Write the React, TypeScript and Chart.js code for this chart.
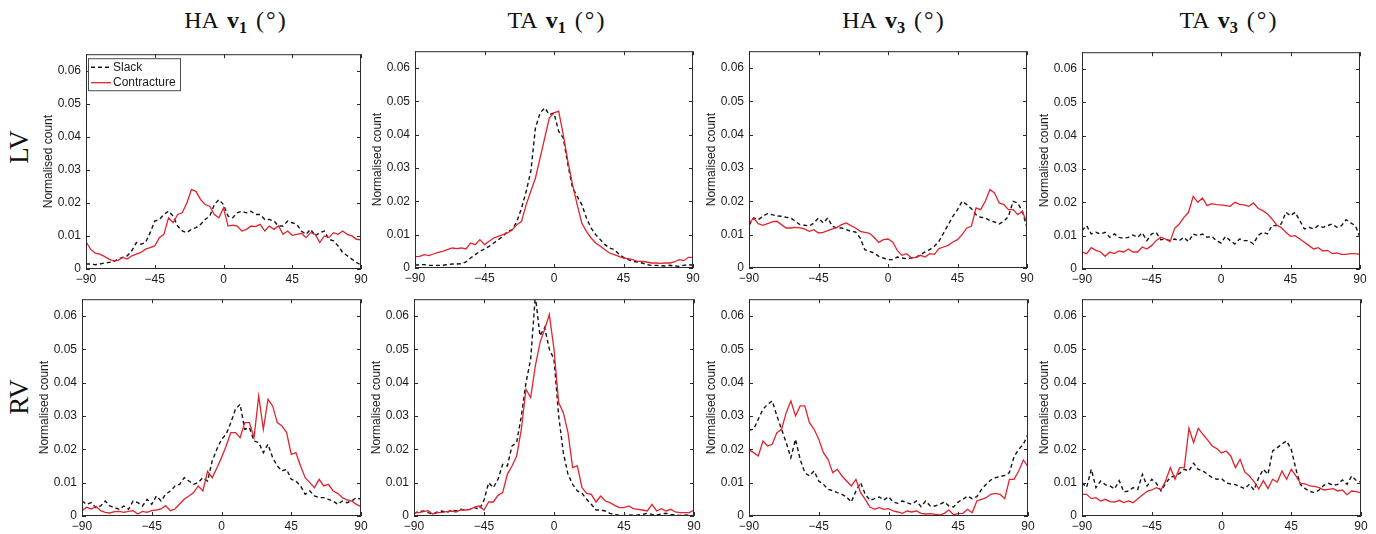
import React, { useEffect, useRef } from 'react';
import { Chart, registerables } from 'chart.js';
Chart.register(...registerables);

// ---------- data ----------
const angles = [
  -90, -87, -84, -81, -78, -75, -72, -69, -66, -63,
  -60, -57, -54, -51, -48, -45, -42, -39, -36, -33,
  -30, -27, -24, -21, -18, -15, -12, -9, -6, -3,
  0, 3, 6, 9, 12, 15, 18, 21, 24, 27,
  30, 33, 36, 39, 42, 45, 48, 51, 54, 57,
  60, 63, 66, 69, 72, 75, 78, 81, 84, 87,
  90,
];

const xTicks = [-90, -45, 0, 45, 90];
const yTicks = [0, 0.01, 0.02, 0.03, 0.04, 0.05, 0.06];
const seriesNames = ['Slack', 'Contracture'];
const colPrefix = ['HA', 'TA', 'HA', 'TA'];
const colSub = ['1', '1', '3', '3'];
const rowLabels = ['LV', 'RV'];
const yAxisTitle = 'Normalised count';

// LV, HA v1
const lvHaV1Slack = [
  0.0015, 0.0015, 0.0013, 0.0015, 0.0018, 0.002, 0.0022, 0.003, 0.0035, 0.004,
  0.0055, 0.008, 0.0075, 0.008, 0.011, 0.0145, 0.015, 0.0165, 0.0175, 0.016,
  0.013, 0.0115, 0.011, 0.012, 0.0125, 0.0135, 0.015, 0.016, 0.0195, 0.021,
  0.0195, 0.016, 0.0155, 0.017, 0.0175, 0.017, 0.0175, 0.0165, 0.0165, 0.015,
  0.015, 0.0145, 0.013, 0.013, 0.0145, 0.014, 0.0135, 0.0115, 0.0105, 0.012,
  0.01, 0.011, 0.0115, 0.009, 0.0085, 0.007, 0.005, 0.004, 0.003, 0.002,
  0.0012,
];
const lvHaV1Contracture = [
  0.0082, 0.006, 0.0048, 0.0045, 0.0038, 0.003, 0.0025, 0.0026, 0.0035, 0.003,
  0.004, 0.0045, 0.005, 0.006, 0.0065, 0.007, 0.0095, 0.0105, 0.0155, 0.014,
  0.0165, 0.017, 0.02, 0.024, 0.0235, 0.021, 0.0195, 0.019, 0.0165, 0.0155,
  0.0185, 0.013, 0.0133, 0.013, 0.0115, 0.012, 0.013, 0.0128, 0.0135, 0.0115,
  0.013, 0.012, 0.013, 0.0105, 0.0115, 0.0102, 0.0105, 0.0108, 0.0095, 0.011,
  0.0105, 0.008, 0.01, 0.0095, 0.011, 0.0105, 0.0115, 0.0105, 0.01, 0.009,
  0.0088,
];

// LV, TA v1
const lvTaV1Slack = [
  0.0008, 0.001, 0.001, 0.0008, 0.0008, 0.0008, 0.0008, 0.001, 0.0012, 0.0012,
  0.0013, 0.0018, 0.003, 0.004, 0.005, 0.0057, 0.0065, 0.0075, 0.0085, 0.0095,
  0.011, 0.0115, 0.014, 0.018, 0.023, 0.029, 0.042, 0.0465, 0.048, 0.046,
  0.0465, 0.041, 0.039, 0.031, 0.024, 0.0215, 0.019, 0.015, 0.012, 0.01,
  0.0085, 0.007, 0.006, 0.0055, 0.0042, 0.0032, 0.0025, 0.002, 0.0018, 0.0015,
  0.001, 0.0008, 0.0008, 0.0007, 0.0006, 0.0008, 0.0006, 0.0005, 0.0008, 0.001,
  0.0008,
];
const lvTaV1Contracture = [
  0.0034, 0.0035, 0.004, 0.0037, 0.0042, 0.0047, 0.005, 0.0055, 0.006, 0.0058,
  0.006, 0.0057, 0.0075, 0.007, 0.0085, 0.007, 0.008, 0.009, 0.0095, 0.01,
  0.0105, 0.0115, 0.013, 0.014, 0.019, 0.023, 0.027, 0.033, 0.039, 0.045,
  0.0465, 0.047, 0.04, 0.032, 0.025, 0.019, 0.0135, 0.011, 0.009, 0.0075,
  0.0065, 0.0055, 0.0045, 0.004, 0.0035, 0.003, 0.0028, 0.0025, 0.002, 0.002,
  0.0018, 0.0015, 0.0015, 0.0014, 0.0015, 0.0015, 0.0018, 0.0025, 0.0022, 0.0032,
  0.0032,
];

// LV, HA v3
const lvHaV3Slack = [
  0.0128, 0.015, 0.0145, 0.0155, 0.0163, 0.016, 0.0156, 0.0155, 0.0152, 0.015,
  0.014, 0.013, 0.0128, 0.0126, 0.0135, 0.015, 0.0135, 0.015, 0.0125, 0.012,
  0.012, 0.0115, 0.011, 0.0108, 0.009, 0.0055, 0.005, 0.0045, 0.0035, 0.003,
  0.0025, 0.0025, 0.0033, 0.003, 0.0028, 0.003, 0.0032, 0.004, 0.0048, 0.0055,
  0.0065, 0.008, 0.0105, 0.013, 0.0155, 0.0175, 0.02, 0.019, 0.0178, 0.016,
  0.0152, 0.015, 0.0142, 0.0138, 0.0132, 0.014, 0.0155, 0.02, 0.0195, 0.017,
  0.012,
];
const lvHaV3Contracture = [
  0.0133, 0.015, 0.0133, 0.0128, 0.0133, 0.0138, 0.014, 0.013, 0.012, 0.012,
  0.0122, 0.012, 0.0117, 0.011, 0.0115, 0.0105, 0.0107, 0.0112, 0.0117, 0.0122,
  0.013, 0.0135, 0.0127, 0.012, 0.011, 0.0107, 0.0104, 0.0092, 0.0077, 0.0085,
  0.0087, 0.0078, 0.0053, 0.0038, 0.0043, 0.0031, 0.0031, 0.0038, 0.0033, 0.0043,
  0.0041, 0.0058, 0.0063, 0.0068, 0.0078, 0.0085, 0.01, 0.012, 0.0125, 0.018,
  0.0175, 0.02, 0.0235, 0.0225, 0.0195, 0.019, 0.0175, 0.0175, 0.016, 0.017,
  0.0135,
];

// LV, TA v3
const lvTaV3Slack = [
  0.0115, 0.013, 0.0105, 0.011, 0.0105, 0.011, 0.0095, 0.0105, 0.0095, 0.0092,
  0.0095, 0.0102, 0.0095, 0.0108, 0.0085, 0.0105, 0.011, 0.0088, 0.009, 0.0085,
  0.009, 0.0085, 0.0095, 0.0082, 0.0105, 0.01, 0.0105, 0.0095, 0.0098, 0.0085,
  0.0078, 0.0098, 0.0085, 0.0075, 0.009, 0.0085, 0.0085, 0.0075, 0.01, 0.011,
  0.0105, 0.013, 0.013, 0.0135, 0.017, 0.016, 0.017, 0.0145, 0.012, 0.0125,
  0.012, 0.013, 0.0125, 0.013, 0.0135, 0.0125, 0.013, 0.0148, 0.0138, 0.013,
  0.0095,
];
const lvTaV3Contracture = [
  0.0051, 0.0046, 0.0064, 0.0056, 0.0051, 0.0038, 0.0051, 0.0046, 0.0054, 0.0051,
  0.006, 0.0051, 0.0051, 0.0066, 0.006, 0.007, 0.0085, 0.0095, 0.009, 0.0082,
  0.0122, 0.0135, 0.0155, 0.017, 0.0218, 0.02, 0.0213, 0.019, 0.0196, 0.0193,
  0.0192, 0.019, 0.0188, 0.02, 0.0194, 0.0192, 0.0188, 0.0198, 0.0182, 0.0175,
  0.0166, 0.015, 0.0132, 0.0124, 0.011, 0.0098, 0.01, 0.009, 0.008, 0.007,
  0.006, 0.0064, 0.0054, 0.0056, 0.0046, 0.0048, 0.0044, 0.0044, 0.0046, 0.0046,
  0.0044,
];

// RV, HA v1
const rvHaV1Slack = [
  0.0045, 0.0035, 0.004, 0.0025, 0.003, 0.0045, 0.003, 0.0025, 0.002, 0.003,
  0.002, 0.0045, 0.004, 0.003, 0.005, 0.0035, 0.006, 0.0045, 0.0065, 0.0075,
  0.009, 0.0095, 0.0115, 0.0105, 0.0095, 0.01, 0.0115, 0.0105, 0.0165, 0.02,
  0.023, 0.0245, 0.028, 0.032, 0.0335, 0.026, 0.0265, 0.0225, 0.022, 0.019,
  0.0215, 0.0175, 0.015, 0.0135, 0.014, 0.011, 0.0105, 0.009, 0.0065, 0.0075,
  0.006, 0.0055, 0.0055, 0.005, 0.0045, 0.0035, 0.0045, 0.004, 0.0045, 0.0055,
  0.005,
];
const rvHaV1Contracture = [
  0.0016, 0.0026, 0.0021, 0.0029, 0.0016, 0.0011, 0.0009, 0.0013, 0.0014, 0.0011,
  0.0014, 0.0016, 0.0006, 0.0014, 0.0011, 0.0016, 0.0018, 0.0021, 0.0031, 0.0016,
  0.0021, 0.0036, 0.0051, 0.006, 0.007, 0.009, 0.0075, 0.0134, 0.0115, 0.0144,
  0.0175, 0.021, 0.025, 0.025, 0.0235, 0.028, 0.028, 0.0235, 0.036, 0.026,
  0.035, 0.033, 0.028, 0.027, 0.025, 0.0185, 0.019, 0.015, 0.0115, 0.01,
  0.0085, 0.011, 0.009, 0.0095, 0.0075, 0.0068, 0.0055, 0.0048, 0.0045, 0.0035,
  0.0028,
];

// RV, TA v1
const rvTaV1Slack = [
  0.0008, 0.0013, 0.0015, 0.001, 0.0006, 0.0012, 0.0015, 0.001, 0.0018, 0.0015,
  0.002, 0.0018, 0.002, 0.0025, 0.002, 0.0047, 0.01, 0.0085, 0.011, 0.0155,
  0.015, 0.021, 0.022, 0.03, 0.04, 0.047, 0.066, 0.054, 0.0565, 0.05,
  0.047, 0.03, 0.019, 0.0125, 0.0095, 0.0075, 0.0068, 0.005, 0.0035, 0.0018,
  0.0018, 0.0015, 0.0008, 0.0004, 0.0002, 0.0001, 0.0003, 0.0002, 0.0003, 0.0005,
  0.0008, 0.0005, 0.0003, 0.0006, 0.0008, 0.0005, 0.0003, 0.0002, 0.0003, 0.0002,
  0.0001,
];
const rvTaV1Contracture = [
  0.001, 0.001, 0.0013, 0.0016, 0.0006, 0.001, 0.0011, 0.0013, 0.0015, 0.0012,
  0.0018, 0.0018, 0.002, 0.0027, 0.003, 0.0018, 0.0042, 0.0042, 0.0062, 0.007,
  0.0125, 0.015, 0.018, 0.026, 0.038, 0.0355, 0.045, 0.052, 0.056, 0.0604,
  0.05, 0.034, 0.031, 0.025, 0.0145, 0.015, 0.0085, 0.0068, 0.0065, 0.0042,
  0.006, 0.0045, 0.004, 0.0032, 0.0025, 0.0025, 0.003, 0.0022, 0.002, 0.0018,
  0.0015, 0.0035, 0.0015, 0.0022, 0.0015, 0.002, 0.0012, 0.001, 0.001, 0.001,
  0.0018,
];

// RV, HA v3
const rvHaV3Slack = [
  0.0258, 0.026, 0.029, 0.032, 0.0335, 0.0345, 0.03, 0.026, 0.022, 0.0175,
  0.023, 0.017, 0.013, 0.012, 0.0135, 0.0105, 0.0095, 0.008, 0.0076, 0.007,
  0.0065, 0.0057, 0.0042, 0.0075, 0.01, 0.0065, 0.0047, 0.0052, 0.0057, 0.0048,
  0.0058, 0.0042, 0.0038, 0.0045, 0.004, 0.0035, 0.0045, 0.0028, 0.0045, 0.003,
  0.003, 0.0035, 0.0042, 0.003, 0.0027, 0.0042, 0.005, 0.006, 0.0052, 0.0058,
  0.008, 0.0095, 0.0108, 0.0115, 0.0118, 0.0122, 0.013, 0.0178, 0.02, 0.0215,
  0.0245,
];
const rvHaV3Contracture = [
  0.0199, 0.019, 0.018, 0.0225, 0.021, 0.0215, 0.025, 0.026, 0.031, 0.0345,
  0.03, 0.033, 0.033, 0.028, 0.026, 0.023, 0.019, 0.017, 0.013, 0.014,
  0.012, 0.0105, 0.009, 0.011, 0.007, 0.005, 0.0027, 0.002, 0.0025, 0.002,
  0.0022, 0.0015, 0.0012, 0.0008, 0.0015, 0.0012, 0.0015, 0.0008, 0.0006, 0.0007,
  0.0005, 0.0003, 0.0008, 0.0018, 0.0004, 0.0007, 0.0008, 0.002, 0.001, 0.0045,
  0.005, 0.0055, 0.0065, 0.0068, 0.0065, 0.0052, 0.011, 0.011, 0.0135, 0.0168,
  0.0148,
];

// RV, TA v3
const rvTaV3Slack = [
  0.01, 0.0086, 0.014, 0.0085, 0.0105, 0.0094, 0.009, 0.0081, 0.0106, 0.0072,
  0.0075, 0.0085, 0.008, 0.0125, 0.009, 0.011, 0.0098, 0.0075, 0.0098, 0.0116,
  0.012, 0.0128, 0.014, 0.0135, 0.0158, 0.014, 0.0135, 0.0125, 0.0115, 0.011,
  0.0112, 0.0099, 0.0096, 0.0094, 0.0088, 0.0082, 0.0095, 0.0078, 0.0115, 0.014,
  0.0125, 0.0195, 0.0205, 0.0216, 0.0225, 0.02, 0.014, 0.0094, 0.0082, 0.0074,
  0.007, 0.0078, 0.0092, 0.0098, 0.0092, 0.0095, 0.0108, 0.0095, 0.012, 0.0106,
  0.0102,
];
const rvTaV3Contracture = [
  0.0065, 0.0065, 0.0052, 0.0055, 0.0045, 0.005, 0.0043, 0.0042, 0.0047, 0.004,
  0.0045, 0.004, 0.0052, 0.0063, 0.0074, 0.0078, 0.0085, 0.0078, 0.0106, 0.0145,
  0.011, 0.0145, 0.0145, 0.0263, 0.022, 0.0263, 0.0245, 0.0228, 0.021, 0.0202,
  0.0189, 0.0195, 0.018, 0.0145, 0.017, 0.0132, 0.012, 0.0103, 0.0081, 0.0106,
  0.0082, 0.011, 0.0102, 0.0135, 0.011, 0.014, 0.012, 0.0098, 0.0096, 0.009,
  0.0089, 0.0085, 0.0078, 0.008, 0.0082, 0.0075, 0.0078, 0.0064, 0.0075, 0.0073,
  0.0069,
];

// ---------- layout (plot-area boxes in page pixels) ----------
const PANELS = [
  { slack: lvHaV1Slack, contr: lvHaV1Contracture, box: [86, 50, 361, 269], legend: true },
  { slack: lvTaV1Slack, contr: lvTaV1Contracture, box: [415, 47, 693, 268], legend: false },
  { slack: lvHaV3Slack, contr: lvHaV3Contracture, box: [749, 47, 1027, 268], legend: false },
  { slack: lvTaV3Slack, contr: lvTaV3Contracture, box: [1082, 48, 1360, 269], legend: false },
  { slack: rvHaV1Slack, contr: rvHaV1Contracture, box: [82, 295, 361, 516], legend: false },
  { slack: rvTaV1Slack, contr: rvTaV1Contracture, box: [414, 295, 694, 516], legend: false },
  { slack: rvHaV3Slack, contr: rvHaV3Contracture, box: [749, 295, 1028, 516], legend: false },
  { slack: rvTaV3Slack, contr: rvTaV3Contracture, box: [1082, 295, 1361, 516], legend: false },
];
const TITLE_CX = [235, 556, 893, 1228];
const ROW_CY = [147, 397];

const RED = '#e3232c';
const BLACK = '#141414';
const FRAME = '#2b2b2b';
const TEXT = '#1a1a1a';
const SANS = '"Liberation Sans", Arial, Helvetica, sans-serif';
const SERIF = '"Liberation Serif", "Times New Roman", serif';

const PADL = 45;
const PADT = 8;
const PADR = 14;
const PADB = 22;

const framePlugin = {
  id: 'frame',
  afterDraw(chart: any, _args: any, opts: any) {
    const { ctx, chartArea } = chart;
    const { left, top, right, bottom } = chartArea;
    const xs = chart.scales.x;
    const ys = chart.scales.y;
    ctx.save();
    ctx.strokeStyle = FRAME;
    ctx.lineWidth = 1;
    ctx.setLineDash([]);
    ctx.strokeRect(left + 0.5, top + 0.5, right - left - 1, bottom - top - 1);
    ctx.beginPath();
    const tl = 4;
    xTicks.forEach((v) => {
      const px = Math.round(xs.getPixelForValue(v)) + 0.5;
      ctx.moveTo(px, bottom);
      ctx.lineTo(px, bottom - tl);
      ctx.moveTo(px, top);
      ctx.lineTo(px, top + tl);
    });
    yTicks.forEach((v) => {
      const py = Math.round(ys.getPixelForValue(v)) + 0.5;
      ctx.moveTo(left, py);
      ctx.lineTo(left + tl, py);
      ctx.moveTo(right, py);
      ctx.lineTo(right - tl, py);
    });
    ctx.stroke();

    if (opts && opts.legend) {
      const bx = left + 2.5;
      const by = top + 4.5;
      const bw = 92;
      const bh = 32;
      ctx.fillStyle = '#ffffff';
      ctx.fillRect(bx, by, bw, bh);
      ctx.strokeStyle = '#4a4a4a';
      ctx.strokeRect(bx, by, bw, bh);
      ctx.font = `12px ${SANS}`;
      ctx.textBaseline = 'middle';
      ctx.textAlign = 'left';
      // Slack
      ctx.strokeStyle = BLACK;
      ctx.lineWidth = 1.4;
      ctx.setLineDash([4, 3]);
      ctx.beginPath();
      ctx.moveTo(left + 5, top + 13);
      ctx.lineTo(left + 25, top + 13);
      ctx.stroke();
      ctx.fillStyle = TEXT;
      ctx.fillText(seriesNames[0], left + 27, top + 13);
      // Contracture
      ctx.setLineDash([]);
      ctx.strokeStyle = RED;
      ctx.lineWidth = 1.3;
      ctx.beginPath();
      ctx.moveTo(left + 5, top + 28.5);
      ctx.lineTo(left + 25, top + 28.5);
      ctx.stroke();
      ctx.fillStyle = TEXT;
      ctx.fillText(seriesNames[1], left + 27, top + 28.5);
    }
    ctx.restore();
  },
};

function Panel({ box, slack, contr, legend }: { box: number[]; slack: number[]; contr: number[]; legend: boolean }) {
  const ref = useRef<HTMLCanvasElement>(null);
  const [L, T, R, B] = box;
  const w = R - L + PADL + PADR;
  const h = B - T + PADT + PADB;

  useEffect(() => {
    const canvas = ref.current;
    if (!canvas) return;
    const font = { family: SANS, size: 12 };
    const chart = new Chart(canvas, {
      type: 'line',
      data: {
        datasets: [
          {
            label: seriesNames[1],
            data: angles.map((a, i) => ({ x: a, y: contr[i] })),
            borderColor: RED,
            borderWidth: 1.3,
            pointRadius: 0,
            tension: 0,
            fill: false,
            order: 0,
          },
          {
            label: seriesNames[0],
            data: angles.map((a, i) => ({ x: a, y: slack[i] })),
            borderColor: BLACK,
            borderWidth: 1.4,
            borderDash: [4, 3],
            pointRadius: 0,
            tension: 0,
            fill: false,
            order: 1,
          },
        ],
      },
      options: {
        responsive: false,
        animation: false,
        events: [],
        layout: { padding: { left: 0, top: PADT, right: PADR, bottom: 0 } },
        plugins: {
          legend: { display: false },
          tooltip: { enabled: false },
          title: { display: false },
          frame: { legend },
        } as any,
        scales: {
          x: {
            type: 'linear',
            min: -90,
            max: 90,
            ticks: {
              stepSize: 45,
              padding: 3,
              font,
              color: TEXT,
              maxRotation: 0,
              autoSkip: false,
              callback: (v: any) => (Number(v) < 0 ? '\u2212' + Math.abs(Number(v)) : String(v)),
            },
            grid: { display: false, drawTicks: false },
            border: { display: false },
            afterFit: (s: any) => {
              s.height = PADB;
            },
          },
          y: {
            type: 'linear',
            min: 0,
            max: 0.065,
            bounds: 'data',
            afterBuildTicks: (s: any) => {
              s.ticks = yTicks.map((v) => ({ value: v }));
            },
            ticks: {
              stepSize: 0.01,
              includeBounds: false,
              padding: 5,
              font,
              color: TEXT,
              autoSkip: false,
              callback: (v: any) => (Number(v) === 0 ? '0' : Number(v).toFixed(2)),
            },
            grid: { display: false, drawTicks: false },
            border: { display: false },
            title: {
              display: true,
              text: yAxisTitle,
              font: { family: SANS, size: 12 },
              color: TEXT,
              padding: { top: 0, bottom: 0 },
            },
            afterFit: (s: any) => {
              s.width = PADL;
            },
          },
        },
      } as any,
      plugins: [framePlugin as any],
    });
    return () => chart.destroy();
  }, []);

  return (
    <canvas
      ref={ref}
      width={w}
      height={h}
      style={{ position: 'absolute', left: L - PADL, top: T - PADT, width: w, height: h }}
    />
  );
}

export default function App() {
  return (
    <div
      style={{
        position: 'absolute',
        left: 0,
        top: 0,
        width: 1376,
        height: 534,
        background: '#ffffff',
        overflow: 'hidden',
      }}
    >
      {colPrefix.map((p, i) => (
        <div
          key={'t' + i}
          style={{
            position: 'absolute',
            left: TITLE_CX[i] - 150,
            top: 5,
            width: 300,
            textAlign: 'center',
            fontFamily: SERIF,
            fontSize: 24,
            lineHeight: '30px',
            color: '#111',
            whiteSpace: 'nowrap',
          }}
        >
          <span>{p}</span>
          <b style={{ marginLeft: 8 }}>v</b>
          <b style={{ fontSize: '0.68em', position: 'relative', top: '0.3em' }}>{colSub[i]}</b>
          <span style={{ marginLeft: 9 }}>(</span>
          <span style={{ margin: '0 2px' }}>°</span>
          <span>)</span>
        </div>
      ))}
      {rowLabels.map((r, i) => (
        <div
          key={'r' + i}
          style={{
            position: 'absolute',
            left: 19 - 40,
            top: ROW_CY[i] - 20,
            width: 80,
            height: 40,
            lineHeight: '40px',
            textAlign: 'center',
            fontFamily: SERIF,
            fontSize: 27,
            color: '#111',
            transform: 'rotate(-90deg)',
          }}
        >
          {r}
        </div>
      ))}
      {PANELS.map((p, i) => (
        <Panel key={i} box={p.box} slack={p.slack} contr={p.contr} legend={p.legend} />
      ))}
    </div>
  );
}
